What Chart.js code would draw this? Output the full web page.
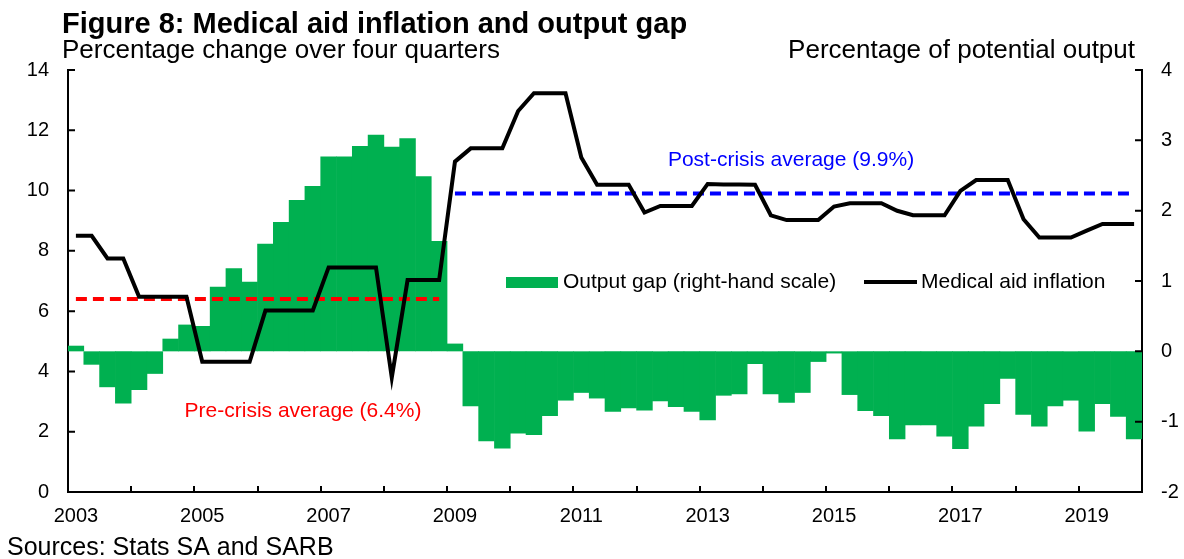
<!DOCTYPE html>
<html lang="en">
<head>
    <meta charset="UTF-8">
    <title>Figure 8: Medical aid inflation and output gap</title>
    <script src="https://cdn.jsdelivr.net/npm/chart.js@4.4.1/dist/chart.umd.min.js"></script>
    <style>
        body {
            margin: 0;
            background: #ffffff;
        }

        #chart-container {
            width: 1184px;
            height: 559px;
        }
    </style>
</head>
<body>
    <div id="chart-container">
        <canvas id="chart" width="1184" height="559"></canvas>
    </div>

    <script>
        // Quarterly data, 2003Q1 - 2019Q4
        const firstYear = 2003;
        const lastYear = 2019;
        const quarterLabels = [];
        for (let y = firstYear; y <= lastYear; y++) {
            for (let q = 1; q <= 4; q++) {
                quarterLabels.push(y + 'Q' + q);
            }
        }

        // Output gap, percentage of potential output (right-hand scale)
        const outputGap = [
            0.08, -0.19, -0.51, -0.74, -0.55, -0.32, 0.18, 0.38,
            0.36, 0.92, 1.18, 0.99, 1.53, 1.84, 2.15, 2.35,
            2.77, 2.77, 2.92, 3.08, 2.91, 3.03, 2.49, 1.57,
            0.11, -0.78, -1.28, -1.38, -1.17, -1.19, -0.92, -0.70,
            -0.59, -0.67, -0.86, -0.81, -0.84, -0.71, -0.79, -0.86,
            -0.98, -0.63, -0.61, -0.18, -0.61, -0.73, -0.59, -0.15,
            -0.03, -0.62, -0.85, -0.92, -1.25, -1.05, -1.05, -1.21,
            -1.39, -1.07, -0.75, -0.39, -0.90, -1.07, -0.78, -0.70,
            -1.14, -0.75, -0.93, -1.25
        ];

        // Medical aid inflation, percentage change over four quarters
        const medicalInflation = [
            8.5, 8.5, 7.75, 7.75, 6.48, 6.48, 6.48, 6.48,
            4.32, 4.32, 4.32, 4.32, 6.02, 6.02, 6.02, 6.02,
            7.45, 7.45, 7.45, 7.45, 3.8, 7.03, 7.03, 7.03,
            10.96, 11.4, 11.4, 11.4, 12.64, 13.23, 13.23, 13.23,
            11.1, 10.19, 10.19, 10.19, 9.27, 9.49, 9.49, 9.49,
            10.22, 10.2, 10.2, 10.19, 9.18, 9.02, 9.02, 9.02,
            9.47, 9.58, 9.58, 9.58, 9.33, 9.18, 9.18, 9.18,
            9.99, 10.35, 10.35, 10.35, 9.05, 8.44, 8.44, 8.44,
            8.67, 8.89, 8.89, 8.89
        ];

        // Averages before and after the crisis (crisis break at 2009Q1)
        const preCrisisAverage = 6.4;
        const postCrisisAverage = 9.9;
        const crisisStart = '2009Q1';

        const leftTicks = [0, 2, 4, 6, 8, 10, 12, 14];
        const rightTicks = [-2, -1, 0, 1, 2, 3, 4];

        const fontFamily = '"Liberation Sans", Arial, sans-serif';
        const green = '#00b050';

        const breakIndex = quarterLabels.indexOf(crisisStart);
        const preCrisisLine = quarterLabels.map((q, i) => i < breakIndex ? preCrisisAverage : null);
        const postCrisisLine = quarterLabels.map((q, i) => i >= breakIndex ? postCrisisAverage : null);

        Chart.defaults.font.family = fontFamily;
        Chart.defaults.color = '#000000';

        // Titles, notes, legend and the inward tick marks
        const decorPlugin = {
            id: 'decor',
            afterDraw(chart) {
                const {ctx, chartArea: {left, right, top, bottom}, scales} = chart;
                ctx.save();

                ctx.fillStyle = '#000000';
                ctx.textBaseline = 'alphabetic';
                ctx.textAlign = 'left';
                ctx.font = 'bold 29px ' + fontFamily;
                ctx.fillText('Figure 8: Medical aid inflation and output gap', 62, 33);
                ctx.font = '26px ' + fontFamily;
                ctx.fillText('Percentage change over four quarters', 62, 58);
                ctx.font = '25px ' + fontFamily;
                ctx.fillText('Sources: Stats SA and SARB', 7, 555);
                ctx.font = '26px ' + fontFamily;
                ctx.textAlign = 'right';
                ctx.fillText('Percentage of potential output', 1135, 58);

                // tick marks point into the plot
                ctx.strokeStyle = '#000000';
                ctx.lineWidth = 2;
                ctx.beginPath();
                const x = scales.x;
                for (let i = 4; i < quarterLabels.length; i += 4) {
                    const px = Math.round(x.getPixelForValue(i - 0.5));
                    ctx.moveTo(px, bottom);
                    ctx.lineTo(px, bottom - 6);
                }
                leftTicks.forEach(v => {
                    const py = scales.y.getPixelForValue(v);
                    ctx.moveTo(left, py);
                    ctx.lineTo(left + 7, py);
                });
                rightTicks.forEach(v => {
                    const py = scales.y1.getPixelForValue(v);
                    ctx.moveTo(right, py);
                    ctx.lineTo(right - 7, py);
                });
                ctx.stroke();

                // average labels
                ctx.font = '21px ' + fontFamily;
                ctx.textBaseline = 'middle';
                ctx.textAlign = 'center';
                ctx.fillStyle = '#0000ff';
                ctx.fillText('Post-crisis average (' + postCrisisAverage + '%)', 791, 160);
                ctx.fillStyle = '#ff0000';
                ctx.fillText('Pre-crisis average (' + preCrisisAverage + '%)', 303, 411);

                // legend
                ctx.textAlign = 'left';
                ctx.fillStyle = green;
                ctx.fillRect(506, 277, 52, 11);
                ctx.fillStyle = '#000000';
                ctx.fillText('Output gap (right-hand scale)', 563, 282);
                ctx.lineWidth = 4;
                ctx.beginPath();
                ctx.moveTo(864, 282);
                ctx.lineTo(917, 282);
                ctx.stroke();
                ctx.fillText('Medical aid inflation', 921, 282);

                ctx.restore();
            }
        };

        const ctx = document.getElementById('chart');

        const chart = new Chart(ctx, {
            data: {
                labels: quarterLabels,
                datasets: [
                    {
                        type: 'line',
                        label: 'Medical aid inflation',
                        data: medicalInflation,
                        yAxisID: 'y',
                        borderColor: '#000000',
                        borderWidth: 4,
                        pointRadius: 0,
                        tension: 0,
                        order: 1
                    },
                    {
                        type: 'line',
                        label: 'Pre-crisis average',
                        data: preCrisisLine,
                        yAxisID: 'y',
                        borderColor: '#ff0000',
                        borderWidth: 4,
                        borderDash: [11, 6],
                        pointRadius: 0,
                        spanGaps: false,
                        order: 2
                    },
                    {
                        type: 'line',
                        label: 'Post-crisis average',
                        data: postCrisisLine,
                        yAxisID: 'y',
                        borderColor: '#0000ff',
                        borderWidth: 4,
                        borderDash: [11, 6],
                        pointRadius: 0,
                        spanGaps: false,
                        order: 2
                    },
                    {
                        type: 'bar',
                        label: 'Output gap (right-hand scale)',
                        data: outputGap,
                        yAxisID: 'y1',
                        backgroundColor: green,
                        borderWidth: 0,
                        barPercentage: 1.04,
                        categoryPercentage: 1,
                        order: 3
                    }
                ]
            },
            options: {
                responsive: false,
                animation: false,
                devicePixelRatio: 1,
                layout: {
                    padding: {top: 70, left: 0, right: 0, bottom: 0}
                },
                plugins: {
                    legend: {display: false},
                    tooltip: {enabled: false}
                },
                scales: {
                    x: {
                        type: 'category',
                        offset: true,
                        grid: {display: false, drawTicks: false},
                        border: {display: true, color: '#000000', width: 2},
                        ticks: {
                            autoSkip: false,
                            maxRotation: 0,
                            padding: 12,
                            font: {size: 20},
                            callback: function (value, index) {
                                const label = quarterLabels[index];
                                const year = parseInt(label.slice(0, 4));
                                return label.endsWith('Q1') && year % 2 === 1 ? String(year) : '';
                            }
                        },
                        afterFit(scale) {
                            scale.height = 67;
                        }
                    },
                    y: {
                        position: 'left',
                        min: 0,
                        max: 14,
                        grid: {display: false, drawTicks: false},
                        border: {display: true, color: '#000000', width: 2},
                        ticks: {
                            stepSize: 2,
                            padding: 19,
                            font: {size: 20}
                        },
                        afterFit(scale) {
                            scale.width = 68;
                        }
                    },
                    y1: {
                        position: 'right',
                        min: -2,
                        max: 4,
                        grid: {display: false, drawTicks: false},
                        border: {display: true, color: '#000000', width: 2},
                        ticks: {
                            stepSize: 1,
                            padding: 19,
                            font: {size: 20}
                        },
                        afterFit(scale) {
                            scale.width = 42;
                        }
                    }
                }
            },
            plugins: [decorPlugin]
        });
    </script>
</body>
</html>
